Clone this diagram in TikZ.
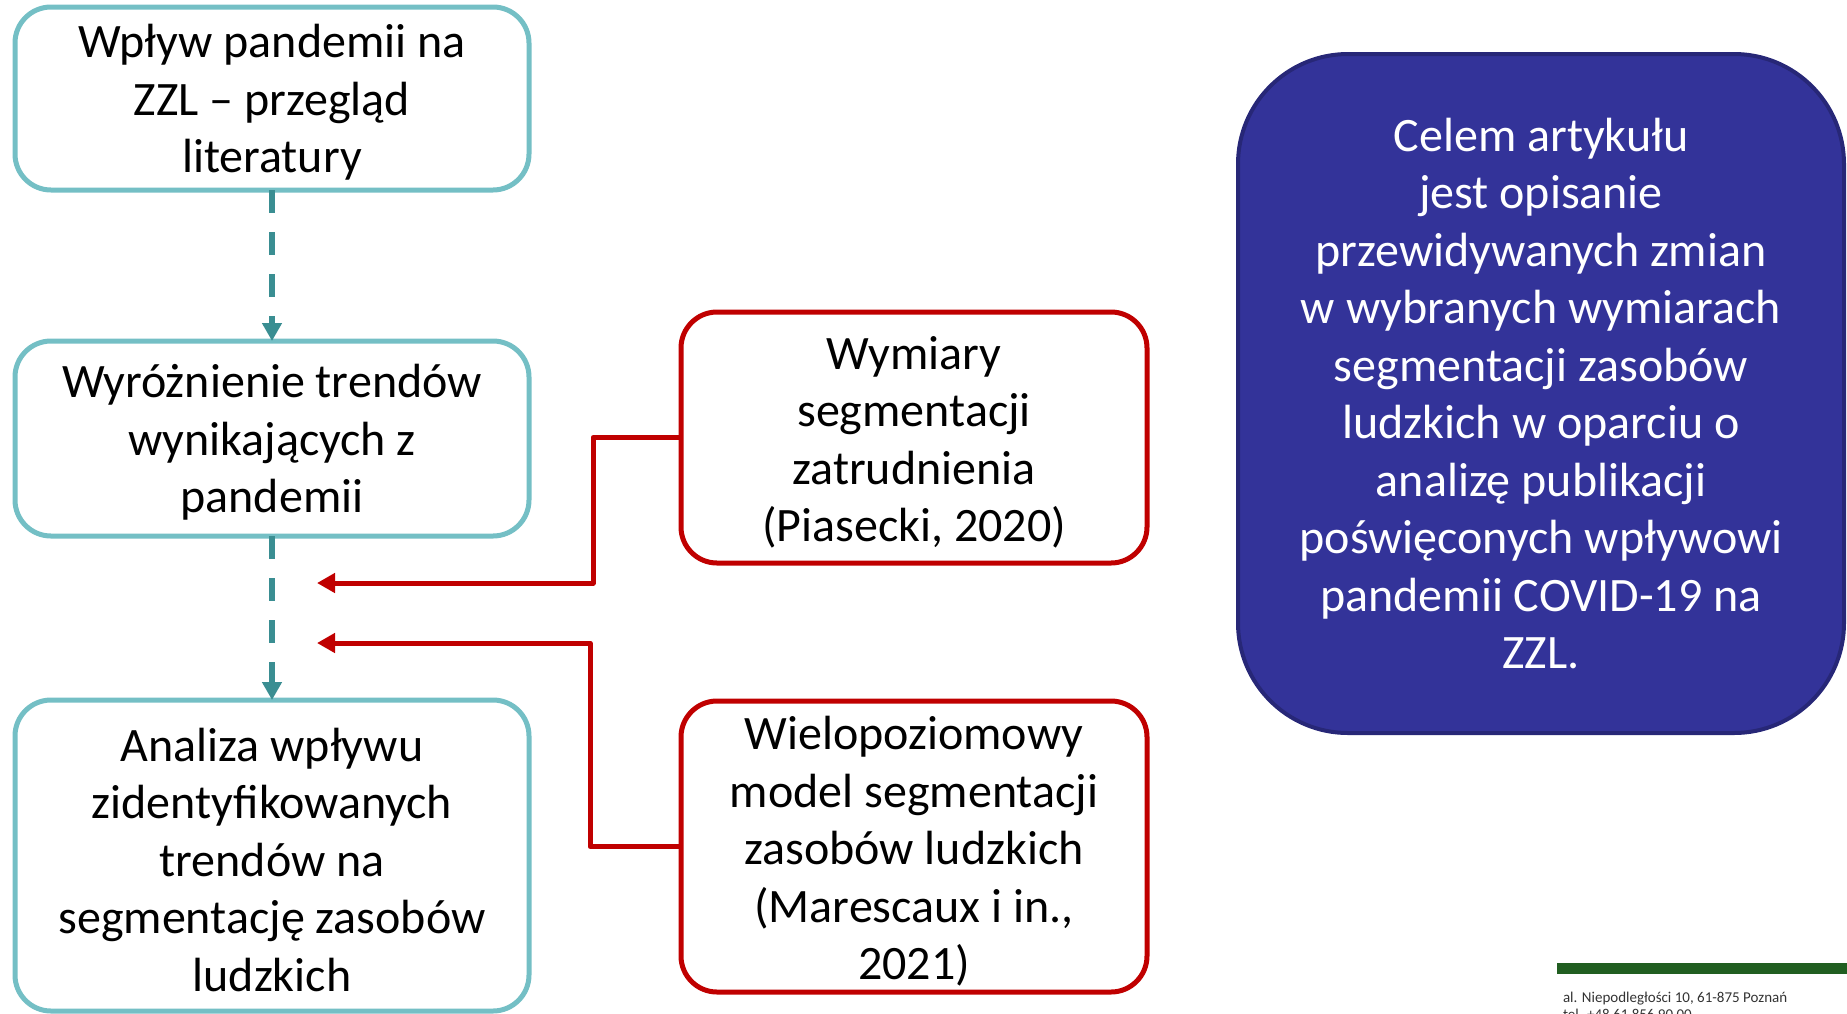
\documentclass[tikz,border=0pt]{standalone}
\usepackage{fontspec}
\setmainfont{Carlito}
\usetikzlibrary{arrows.meta}
\definecolor{tealborder}{HTML}{74BFC5}
\definecolor{tealarrow}{HTML}{3A8E92}
\definecolor{redline}{HTML}{C00000}
\definecolor{bluefill}{HTML}{333399}
\definecolor{blueborder}{HTML}{272777}
\definecolor{footgreen}{HTML}{215E21}
\begin{document}
\begin{tikzpicture}[x=1pt,y=-1pt,
  every node/.style={inner sep=0pt, outer sep=0pt, align=center},
  bigtext/.style={font=\fontsize{48}{57.5}\selectfont},
  stepbox/.style={draw=tealborder, line width=5pt, fill=white,
    rounded corners=36pt, minimum width=514pt},
  srcbox/.style={draw=redline, line width=5pt, fill=white,
    rounded corners=36pt, minimum width=466pt},
  goalbox/.style={bigtext, text=white, draw=blueborder, line width=4pt,
    fill=bluefill, rounded corners=110pt, minimum width=606pt, minimum height=679pt},
  flow/.style={draw=tealarrow, line width=6pt, dash pattern=on 23pt off 19pt,
    -{Triangle[width=19pt,length=18pt]}},
  feed/.style={draw=redline, line width=5pt, line join=round,
    -{Triangle[width=19pt,length=18pt]}},
  foot/.style={anchor=base west, font=\fontsize{15}{17}\selectfont, text=black!80}]
\useasboundingbox (0,0) rectangle (1847,1013);

% left column: research steps
\node[stepbox, minimum height=183pt] (b1) at (272,98.5) {};
\node[stepbox, minimum height=195pt] (b2) at (272,438.5) {};
\node[stepbox, minimum height=311pt] (b3) at (272,855.5) {};
\node[bigtext] (b1t) at ([yshift=-4pt]b1.center) {Wpływ pandemii na\\ZZL – przegląd\\literatury};
\node[bigtext] (b2t) at ([yshift=-4pt]b2.center) {Wyróżnienie trendów\\wynikających z\\pandemii};
\node[bigtext] (b3t) at ([yshift=-4pt]b3.center)
  {Analiza wpływu\\zidentyfikowanych\\trendów na\\segmentację zasobów\\ludzkich};

% middle column: sources
\node[srcbox, minimum height=251pt] (r1) at (914,437.5) {};
\node[srcbox, minimum height=291pt] (r2) at (914,846.5) {};
\node[bigtext] (r1t) at ([yshift=-5pt]r1.center)
  {Wymiary\\segmentacji\\zatrudnienia\\(Piasecki, 2020)};
\node[bigtext] (r2t) at ([yshift=-5pt]r2.center)
  {Wielopoziomowy\\model segmentacji\\zasobów ludzkich\\(Marescaux i in.,\\2021)};

% right: aim of the article
\node[goalbox] (goal) at (1541,393.5)
  {Celem artykułu\\jest opisanie\\przewidywanych zmian\\w wybranych wymiarach\\segmentacji zasobów\\ludzkich w oparciu o\\analizę publikacji\\poświęconych wpływowi\\pandemii COVID-19 na\\ZZL.};

% flow between steps
\draw[flow] (b1.south) -- (b2.north);
\draw[flow] (b2.south) -- (b3.north);

% sources feeding into the second flow
\coordinate (t1) at (317,583);
\coordinate (t2) at (317,643);
\draw[feed] (r1.west) -| (593,583) -- (t1);
\draw[feed] (r2.west) -| (590,643) -- (t2);

% footer
\fill[footgreen] (1557,963) rectangle (1847,974);
\node[foot] (addr1) at (1563,1002) {al. Niepodległości 10, 61-875 Poznań};
\node[foot] (addr2) at (1563,1019) {tel. +48 61 856 90 00};
\end{tikzpicture}
\end{document}
